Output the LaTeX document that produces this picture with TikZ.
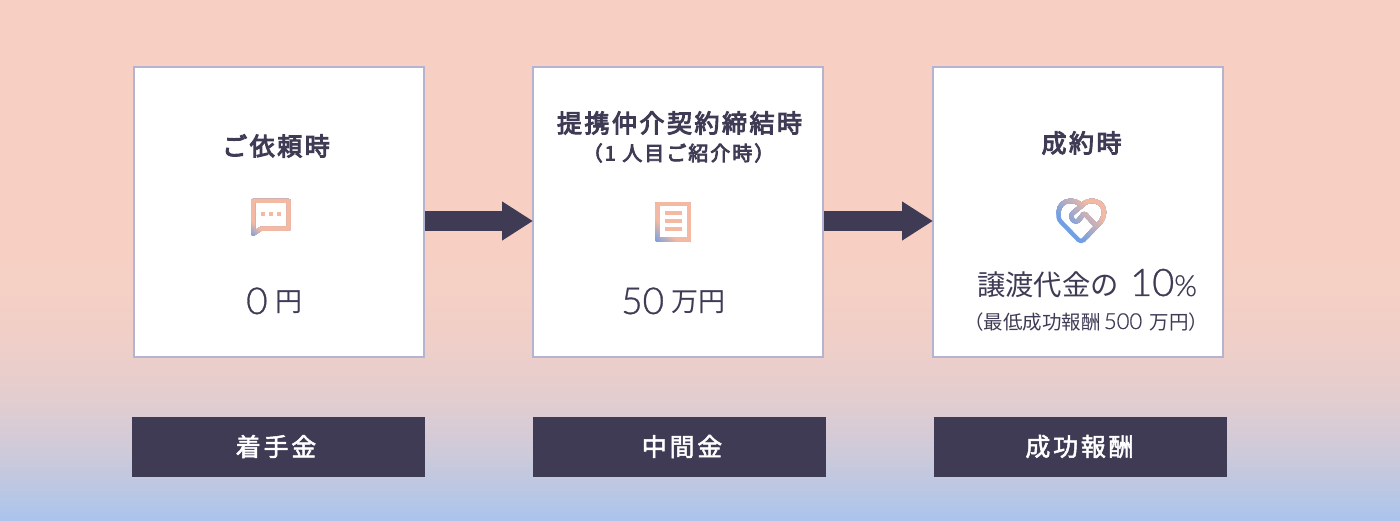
\documentclass[tikz,border=0pt]{standalone}
\usepackage{fontspec}
\usetikzlibrary{arrows.meta}
\setmainfont{Noto Sans CJK JP}
\newfontfamily\titlefont[LetterSpace=10,FakeBold=4]{Noto Sans CJK JP}
\newfontfamily\labelfont[LetterSpace=11,FakeBold=2]{Noto Sans CJK JP}
\newfontfamily\numfont[FakeBold=0.8]{Lato}[UprightFont={* Light}]

\definecolor{ink}{HTML}{3F3B55}
\definecolor{frame}{HTML}{B4B4D2}
\definecolor{peach}{HTML}{F3B9A3}
\definecolor{iconblue}{HTML}{6F9FE6}
\definecolor{bgtop}{HTML}{F7D0C3}
\definecolor{bgbottom}{HTML}{A9C4EC}
\definecolor{bgone}{HTML}{BBC7E3}
\definecolor{bgtwo}{HTML}{CFCAD9}
\definecolor{bgthree}{HTML}{E2CDD0}
\definecolor{bgfour}{HTML}{F0CFC8}

\pgfdeclareverticalshading{bgshade}{100bp}{
  color(0bp)=(bgbottom); color(25bp)=(bgbottom);
  color(28bp)=(bgone); color(31.8bp)=(bgtwo);
  color(36.6bp)=(bgthree); color(42.4bp)=(bgfour);
  color(51bp)=(bgtop); color(75bp)=(bgtop); color(100bp)=(bgtop)}

\tikzset{
  card/.style={draw=frame, line width=2pt, fill=white, minimum width=290pt, minimum height=290pt, inner sep=0pt},
  tag/.style={fill=ink, text=white, minimum width=293pt, minimum height=60pt, inner sep=0pt, font=\labelfont\fontsize{25}{25}\selectfont},
  flow/.style={draw=ink, line width=20pt, -{Triangle[length=31pt, width=37pt]}, shorten >=-1pt},
  title/.style={text=ink, inner sep=0pt, font=\titlefont\fontsize{25}{25}\selectfont},
  amount/.style={text=ink, inner sep=0pt, anchor=base west},
  iconline/.style={line width=4pt, line join=round, line cap=round}
}

% #1 = start of the colour change, #2 = its end, #3 = the strokes
\newcommand{\gradicon}[3]{
  \foreach \i in {0,...,24}{
    \pgfmathsetmacro{\pos}{#1+(#2-#1)*\i/24}
    \pgfmathsetmacro{\mixval}{\i*100/24}
    \colorlet{bandcolor}{peach!\mixval!iconblue}
    \begin{scope}
      \ifnum\i=0\relax\else
        \clip (\pos+2000,-\pos+2000) -- (\pos-2000,-\pos-2000) -- (\pos,-\pos-4000) -- (\pos+4000,-\pos) -- cycle;
      \fi
      \tikzset{iconcolor/.style={draw=bandcolor}}
      #3
    \end{scope}
  }
}

\begin{document}
\begin{tikzpicture}[x=1pt, y=-1pt]
  \useasboundingbox (0,0) rectangle (1400,521);
  \shade[shading=bgshade] (0,0) rectangle (1400,521);

  % cards
  \node[card] (request) at (278.5,212) {};
  \node[card] (contract) at (678,212) {};
  \node[card] (close) at (1078,212) {};

  \draw[flow] ([yshift=-9pt]request.east) -- ([yshift=-9pt]contract.west);
  \draw[flow] ([yshift=-9pt]contract.east) -- ([yshift=-9pt]close.west);

  % bottom labels
  \node[tag] (tagstart) at (278.5,446.5) {着手金\hspace*{5pt}};
  \node[tag] (tagmiddle) at (679.5,446.5) {\hspace*{5pt}中間金};
  \node[tag] (tagsuccess) at (1080.5,446.5) {成功報酬\hspace*{2pt}};

  % titles
  \node[title] (titleone) at (276,146) {ご依頼時};
  \node[title] (titletwo) at (679.5,123) {提携仲介契約締結時};
  \node[title, font=\titlefont\fontsize{20}{20}\selectfont] (titletwosub) at (678.5,153) {（1 人目ご紹介時）};
  \node[title] (titlethree) at (1081.5,143) {成約時};

  % bubble
  \gradicon{7}{15}{
    \draw[iconline, iconcolor, line width=4pt] (253,234) -- (253,201) -- (288.7,201) -- (288.7,228.7) -- (261,228.7) -- cycle;
  }
  \foreach \x in {263,271,279}
    \fill[peach] (\x-2,212.3) rectangle (\x+2,216.3);

  % document
  \gradicon{206}{218}{
    \draw[iconline, iconcolor, line width=4.6pt, line cap=butt] (657.5,204) rectangle (689,239.4);
  }
  \fill[peach] (665,211.3) rectangle (681.7,215.3);
  \fill[peach] (665,219) rectangle (681.7,223);
  \fill[peach] (665,227.3) rectangle (681.7,231.3);

  % heart
  \gradicon{420}{442}{
    \draw[iconline, iconcolor, line width=4.3pt] (1096.5,226) -- (1085.5,214.5) .. controls (1085,213.5) and (1084,213.5) .. (1083.5,214)
      -- (1078.5,220.5) .. controls (1076,222.5) and (1072,221) .. (1071.5,217.5)
      .. controls (1071,215) and (1072,213.5) .. (1073.5,212.5)
      -- (1081.7,205.7) .. controls (1086,201) and (1090,200.5) .. (1094,201)
      .. controls (1101,202) and (1104,207) .. (1104,212)
      .. controls (1104,216.5) and (1102,220) .. (1100,222.5)
      -- (1083.5,240) .. controls (1082,241.5) and (1080,241.5) .. (1078.5,240)
      -- (1061,222) .. controls (1058,219) and (1058.5,216) .. (1058.5,212)
      .. controls (1059,206) and (1063,201.5) .. (1069,201)
      .. controls (1074,200.5) and (1078,202) .. (1081.7,205.7);
  }

  % amounts
  \node[amount, font=\numfont\fontsize{37}{37}\selectfont] (zero) at (246,314) {0};
  \node[amount, font=\fontsize{27}{27}\selectfont] (zeroyen) at (275,312) {円};
  \node[amount, font=\numfont\fontsize{37}{37}\selectfont] (fifty) at (621,314) {50};
  \node[amount, font=\fontsize{27}{27}\selectfont] (fiftyyen) at (671,312) {万円};
  \node[amount, font=\fontsize{28.3}{28}\selectfont] (share) at (977,295) {譲渡代金の};
  \node[amount, font=\numfont\fontsize{38}{38}\selectfont] (ten) at (1130,296) {10{\fontsize{29}{29}\selectfont\%}};
  \node[amount, font=\fontsize{19.5}{19}\selectfont] (minimum) at (964,329) {（最低成功報酬\,{\numfont\fontsize{22}{22}\selectfont 500}\, 万円）};
\end{tikzpicture}
\end{document}
